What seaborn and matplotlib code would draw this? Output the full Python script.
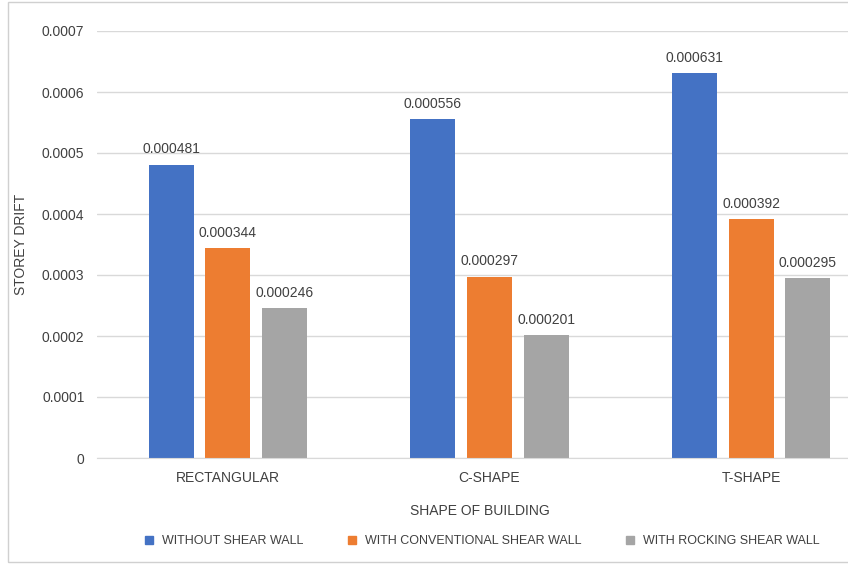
import matplotlib
matplotlib.use("Agg")
import matplotlib.pyplot as plt
from matplotlib.lines import Line2D
from matplotlib.patches import Rectangle
import seaborn as sns
import pandas as pd

shapes = ["RECTANGULAR", "C-SHAPE", "T-SHAPE"]
series = ["WITHOUT SHEAR WALL", "WITH CONVENTIONAL SHEAR WALL", "WITH ROCKING SHEAR WALL"]
without_wall = [0.000481, 0.000556, 0.000631]
conventional_wall = [0.000344, 0.000297, 0.000392]
rocking_wall = [0.000246, 0.000201, 0.000295]
y_ticks = [0, 0.0001, 0.0002, 0.0003, 0.0004, 0.0005, 0.0006, 0.0007]
colors = ["#4472C4", "#ED7D31", "#A5A5A5"]

df = pd.DataFrame({
    "shape": shapes * 3,
    "series": [series[0]] * 3 + [series[1]] * 3 + [series[2]] * 3,
    "drift": without_wall + conventional_wall + rocking_wall,
})

sns.set_style("white")
plt.rcParams["font.family"] = ["Liberation Sans Narrow", "Liberation Sans", "DejaVu Sans"]
text_color = "#404040"

fig = plt.figure(figsize=(8.48, 5.64), dpi=100)
fig.patches.append(Rectangle((8 / 848, 2 / 564), 1.0, 1 - 4 / 564, transform=fig.transFigure,
                             fill=False, edgecolor="#D0D0D0", linewidth=1.0))
ax = fig.add_axes([97 / 848, 1 - 458 / 564, 785 / 848, 427 / 564])

sns.barplot(data=df, x="shape", y="drift", hue="series", order=shapes, hue_order=series,
            palette=colors, width=0.65, gap=0.21, saturation=1, ax=ax, legend=False,
            errorbar=None, linewidth=0)

for container, vals in zip(ax.containers, [without_wall, conventional_wall, rocking_wall]):
    ax.bar_label(container, labels=[f"{v:.6f}" for v in vals], padding=6,
                 fontsize=10, color=text_color)

ax.set_ylim(0, 0.0007)
ax.set_yticks(y_ticks)
ax.set_yticklabels(["0"] + [f"{v:.4f}" for v in y_ticks[1:]])
ax.yaxis.grid(True, color="#D9D9D9", linewidth=1)
ax.set_axisbelow(True)
for s in ["top", "right", "left"]:
    ax.spines[s].set_visible(False)
ax.spines["bottom"].set_color("#D9D9D9")
ax.tick_params(axis="both", length=0, labelsize=10, colors=text_color)
ax.tick_params(axis="y", pad=9)
ax.tick_params(axis="x", pad=9)
ax.set_xlabel("SHAPE OF BUILDING", fontsize=10, color=text_color)
ax.xaxis.set_label_coords((480 - 97) / 785, -(504 - 458) / 427)
ax.set_ylabel("STOREY DRIFT", fontsize=10, color=text_color)
ax.yaxis.set_label_coords(-(97 - 28) / 785, 0.5)

handles = [Line2D([], [], marker="s", linestyle="none", markersize=6, color=c) for c in colors]
fig.legend(handles, series, loc="center", bbox_to_anchor=(478 / 848, 1 - 541 / 564), ncol=3,
           frameon=False, fontsize=9, handletextpad=0.05, columnspacing=2.9,
           labelcolor=text_color)

fig.savefig("out.png", dpi=100)
